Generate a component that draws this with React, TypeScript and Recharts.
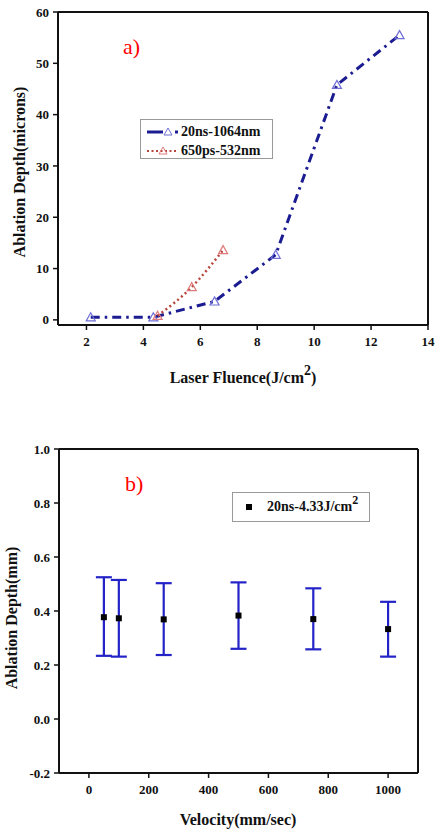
import { ComposedChart, Line, Scatter, ErrorBar, XAxis, YAxis, Legend, ReferenceLine } from "recharts";

// panel a) laser fluence vs ablation depth
const fluence20ns = [2.15, 4.35, 6.5, 8.65, 10.8, 13.0];
const depth20ns = [0.5, 0.5, 3.6, 12.7, 45.8, 55.5];
const fluence650ps = [4.5, 5.7, 6.8];
const depth650ps = [0.8, 6.4, 13.6];
const fluenceTicks = [2, 4, 6, 8, 10, 12, 14];
const micronTicks = [0, 10, 20, 30, 40, 50, 60];

// panel b) velocity vs ablation depth, with error bars
const velocity = [50, 100, 250, 500, 750, 1000];
const depthMm = [0.377, 0.373, 0.369, 0.383, 0.37, 0.333];
const errLow = [0.234, 0.231, 0.237, 0.26, 0.258, 0.231];
const errHigh = [0.525, 0.515, 0.503, 0.506, 0.484, 0.434];
const velocityTicks = [0, 200, 400, 600, 800, 1000];
const mmTicks = [-0.2, 0, 0.2, 0.4, 0.6, 0.8, 1.0];

const serif = "'Liberation Serif', 'Times New Roman', serif";
const BLUE = "#1c1c92";
const RED = "#b8453c";

const ns20 = fluence20ns.map((x, i) => ({ x, y: depth20ns[i] }));
const ps650 = fluence650ps.map((x, i) => ({ x, y: depth650ps[i] }));
const velData = velocity.map((v, i) => ({
  v,
  d: depthMm[i],
  err: [depthMm[i] - errLow[i], errHigh[i] - depthMm[i]],
}));

const tickStyle = { fontFamily: serif, fontWeight: 700, fontSize: 13, fill: "#111" };

const Triangle = (color: string) => (props: any) => {
  const { cx, cy, index } = props;
  if (cx == null || cy == null) return null;
  const s = 4.5;
  return (
    <path
      key={index}
      d={`M${cx},${cy - s} L${cx + s},${cy + s * 0.8} L${cx - s},${cy + s * 0.8} Z`}
      fill="none"
      stroke={color}
      strokeWidth={1.2}
    />
  );
};

const Square = (props: any) => {
  const { cx, cy } = props;
  return <rect x={cx - 3} y={cy - 3} width={6} height={6} fill="#000" />;
};

const titleStyle: any = {
  position: "absolute",
  fontFamily: serif,
  fontWeight: 700,
  fontSize: 16,
  whiteSpace: "nowrap",
  color: "#111",
};

// top and right sides of the plot box
const frameLine = { stroke: "#111", strokeWidth: 2 };

function LegendA() {
  return (
    <div
      style={{
        border: "1px solid #999",
        background: "#fff",
        width: 131,
        height: 38,
        fontFamily: serif,
        fontWeight: 700,
        fontSize: 14,
        color: "#111",
      }}
    >
      <div style={{ display: "flex", alignItems: "center", height: 19, paddingTop: 2 }}>
        <svg width={40} height={12}>
          <line x1={6} y1={6} x2={22} y2={6} stroke={BLUE} strokeWidth={3} />
          <path d="M27,2 L31,9 L23,9 Z" fill="none" stroke="#6f6fd6" strokeWidth={1} />
          <line x1={34} y1={6} x2={37} y2={6} stroke={BLUE} strokeWidth={3} />
        </svg>
        <span>20ns-1064nm</span>
      </div>
      <div style={{ display: "flex", alignItems: "center", height: 19 }}>
        <svg width={40} height={12}>
          <line x1={6} y1={6} x2={37} y2={6} stroke={RED} strokeWidth={2} strokeDasharray="2 2.5" />
          <path d="M22,2 L26,9 L18,9 Z" fill="none" stroke="#e07a7a" strokeWidth={1} />
        </svg>
        <span>650ps-532nm</span>
      </div>
    </div>
  );
}

function LegendB() {
  return (
    <div
      style={{
        border: "1px solid #999",
        background: "#fff",
        width: 136,
        height: 28,
        fontFamily: serif,
        fontWeight: 700,
        fontSize: 14,
        color: "#111",
        display: "flex",
        alignItems: "center",
      }}
    >
      <svg width={34} height={12}>
        <rect x={13} y={3} width={6} height={6} fill="#000" />
      </svg>
      <span>
        20ns-4.33J/cm<sup style={{ fontSize: 12, verticalAlign: "7px", lineHeight: 0 }}>2</sup>
      </span>
    </div>
  );
}

export default function App() {
  return (
    <div style={{ position: "absolute", left: 0, top: 0, width: 435, height: 832, background: "#fff" }}>
      {/* a) */}
      <div style={{ position: "absolute", left: 0, top: 0, width: 435, height: 400 }}>
        <ComposedChart width={435} height={400} margin={{ top: 12, right: 7, left: 0, bottom: 45 }}>
          <XAxis
            dataKey="x"
            type="number"
            domain={[1, 14]}
            ticks={fluenceTicks}
            allowDataOverflow
            height={30}
            tick={tickStyle}
            tickSize={5}
            tickMargin={7}
            axisLine={{ stroke: "#111", strokeWidth: 2 }}
            tickLine={{ stroke: "#111", strokeWidth: 1.5 }}
          />
          <YAxis
            type="number"
            domain={[-1, 60]}
            ticks={micronTicks}
            allowDataOverflow
            width={58}
            tick={tickStyle}
            tickSize={5}
            tickMargin={4}
            axisLine={{ stroke: "#111", strokeWidth: 2 }}
            tickLine={{ stroke: "#111", strokeWidth: 1.5 }}
          />
          <ReferenceLine y={60} {...frameLine} ifOverflow="visible" />
          <ReferenceLine x={14} {...frameLine} ifOverflow="visible" />
          <Legend
            layout="vertical"
            align="center"
            verticalAlign="middle"
            wrapperStyle={{ left: 140, top: 119, width: "auto" }}
            content={() => <LegendA />}
          />
          <Line
            data={ns20}
            dataKey="y"
            type="linear"
            stroke={BLUE}
            strokeWidth={3}
            strokeDasharray="9 5 2.5 5"
            dot={Triangle("#6f6fd6")}
            activeDot={false}
            isAnimationActive={false}
          />
          <Line
            data={ps650}
            dataKey="y"
            type="monotone"
            stroke={RED}
            strokeWidth={2.5}
            strokeDasharray="2 3"
            dot={Triangle("#e07a7a")}
            activeDot={false}
            isAnimationActive={false}
          />
        </ComposedChart>
        <div style={{ position: "absolute", left: 123, top: 34, color: "#ff0000", fontFamily: serif, fontSize: 22 }}>a)</div>
        <div style={{ ...titleStyle, left: 243, top: 378, transform: "translate(-50%, -50%)" }}>
          Laser Fluence(J/cm<sup style={{ fontSize: 14, verticalAlign: "8px", lineHeight: 0 }}>2</sup>)
        </div>
        <div style={{ ...titleStyle, left: 20, top: 172, transform: "translate(-50%, -50%) rotate(-90deg)" }}>
          Ablation Depth(microns)
        </div>
      </div>

      {/* b) */}
      <div style={{ position: "absolute", left: 0, top: 420, width: 435, height: 412 }}>
        <ComposedChart width={435} height={412} margin={{ top: 29, right: 17, left: 0, bottom: 29 }}>
          <XAxis
            dataKey="v"
            type="number"
            domain={[-100, 1100]}
            ticks={velocityTicks}
            height={30}
            tick={tickStyle}
            tickSize={5}
            tickMargin={7}
            axisLine={{ stroke: "#111", strokeWidth: 2 }}
            tickLine={{ stroke: "#111", strokeWidth: 1.5 }}
          />
          <YAxis
            dataKey="d"
            type="number"
            domain={[-0.2, 1.0]}
            ticks={mmTicks}
            tickFormatter={(v: number) => v.toFixed(1)}
            width={59}
            tick={tickStyle}
            tickSize={5}
            tickMargin={4}
            axisLine={{ stroke: "#111", strokeWidth: 2 }}
            tickLine={{ stroke: "#111", strokeWidth: 1.5 }}
          />
          <ReferenceLine y={1.0} {...frameLine} ifOverflow="visible" />
          <ReferenceLine x={1100} {...frameLine} ifOverflow="visible" />
          <Legend
            layout="vertical"
            align="center"
            verticalAlign="middle"
            wrapperStyle={{ left: 232, top: 72, width: "auto" }}
            content={() => <LegendB />}
          />
          <Scatter data={velData} dataKey="d" shape={Square} isAnimationActive={false}>
            <ErrorBar dataKey="err" direction="y" width={8} stroke="#2323c8" strokeWidth={2.2} isAnimationActive={false} />
          </Scatter>
        </ComposedChart>
        <div style={{ position: "absolute", left: 125, top: 51, color: "#ff0000", fontFamily: serif, fontSize: 22 }}>b)</div>
        <div style={{ ...titleStyle, left: 238, top: 400, transform: "translate(-50%, -50%)" }}>
          Velocity(mm/sec)
        </div>
        <div style={{ ...titleStyle, left: 12, top: 198, transform: "translate(-50%, -50%) rotate(-90deg)" }}>
          Ablation Depth(mm)
        </div>
      </div>
    </div>
  );
}
